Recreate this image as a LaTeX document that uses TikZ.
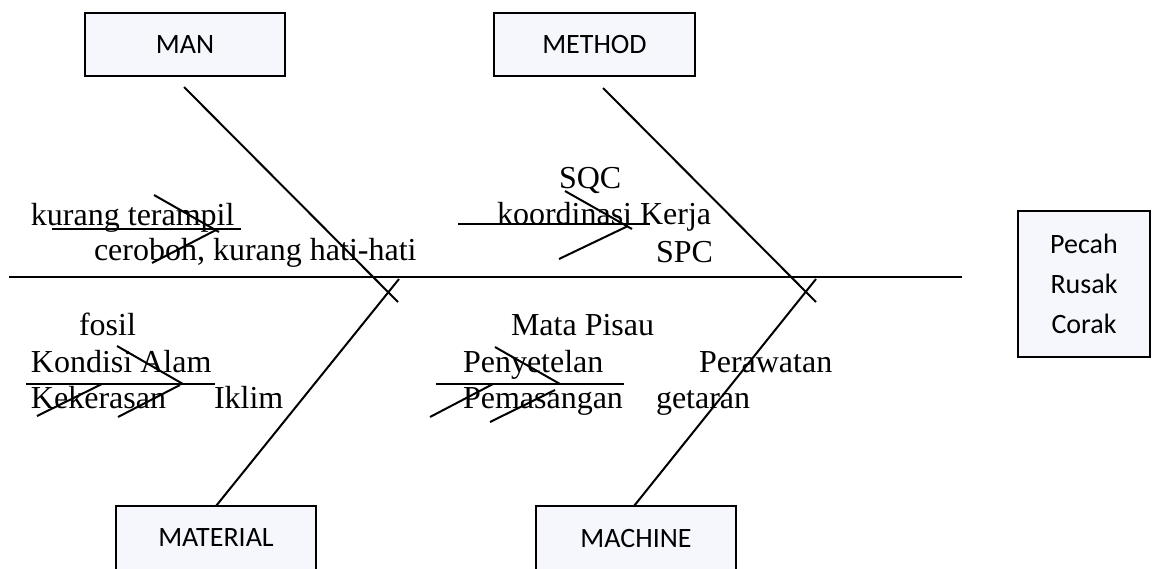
\documentclass[tikz,border=0pt]{standalone}
\usepackage{fontspec}
\setmainfont{Liberation Serif}
\newfontfamily\boxfont{Carlito}
\definecolor{boxfill}{HTML}{F5F7FD}

\begin{document}
\begin{tikzpicture}[x=0.75pt, y=-0.75pt, line width=1.5pt]
        \tikzstyle{every node}=[inner sep=0pt, font=\fontsize{24}{28}\selectfont]
        \tikzstyle{cause}=[draw, line width=1.7pt, fill=boxfill, minimum width=150.5pt, minimum height=47pt, font=\boxfont\fontsize{21}{26}\selectfont]
        \tikzstyle{txt}=[anchor=base west]
        \useasboundingbox (0,0) rectangle (1152,568);
        % category boxes
        \node [cause] (man) at (185,44.5) {MAN};
        \node [cause] (method) at (594.5,44.5) {METHOD};
        \node [cause, minimum height=48pt] (material) at (216,538) {MATERIAL};
        \node [cause, minimum height=48pt] (machine) at (636,538) {MACHINE};
        \node [cause, minimum width=99pt, minimum height=110pt, align=center, font=\boxfont\fontsize{21}{30}\selectfont] (effect) at (1084,284) {Pecah\\Rusak\\Corak};
        % spine and main bones
        \coordinate (tail) at (9,277); \coordinate (head) at (962,277);
        \coordinate (man a) at (184,87); \coordinate (man b) at (398,302);
        \coordinate (method a) at (603,88); \coordinate (method b) at (816,302);
        \coordinate (material a) at (216,506); \coordinate (material b) at (399,279);
        \coordinate (machine a) at (634,506); \coordinate (machine b) at (816,279);
        \draw (tail) -- (head);
        \draw (man a) -- (man b);
        \draw (method a) -- (method b);
        \draw (material a) -- (material b);
        \draw (machine a) -- (machine b);
        % labels
        \node [txt] (k1) at (30,225) {kurang terampil};
        \node [txt] (k2) at (93,260) {ceroboh, kurang hati-hati};
        \node [txt] (m1) at (558,188) {SQC};
        \node [txt] (m2) at (496,224) {koordinasi Kerja};
        \node [txt] (m3) at (655,262) {SPC};
        \node [txt] (t1) at (78,335) {fosil};
        \node [txt] (t2) at (30,372) {Kondisi Alam};
        \node [txt] (t3) at (30,408) {Kekerasan};
        \node [txt] (t4) at (213,408) {Iklim};
        \node [txt] (c1) at (510,335) {Mata Pisau};
        \node [txt] (c2) at (462,372) {Penyetelan};
        \node [txt] (c3) at (698,372) {Perawatan};
        \node [txt] (c4) at (462,408) {Pemasangan};
        \node [txt] (c5) at (655,408) {getaran};
        % small bones, man
        \coordinate (p1) at (52,229); \coordinate (p2) at (241,229);
        \coordinate (p3) at (154,195); \coordinate (p4) at (219,232);
        \coordinate (p5) at (152,263); \coordinate (p6) at (216,230);
        \draw (p1) -- (p2); \draw (p3) -- (p4); \draw (p5) -- (p6);
        % small bones, method
        \coordinate (q1) at (458,224); \coordinate (q2) at (650,224);
        \coordinate (q3) at (565,191); \coordinate (q4) at (632,229);
        \coordinate (q5) at (559,259); \coordinate (q6) at (628,226);
        \draw (q1) -- (q2); \draw (q3) -- (q4); \draw (q5) -- (q6);
        % small bones, material
        \coordinate (r1) at (26,384); \coordinate (r2) at (215,384);
        \coordinate (r3) at (117,346); \coordinate (r4) at (183,384);
        \coordinate (r5) at (118,417); \coordinate (r6) at (180,385);
        \coordinate (r7) at (37,416); \coordinate (r8) at (102,384);
        \draw (r1) -- (r2); \draw (r3) -- (r4); \draw (r5) -- (r6); \draw (r7) -- (r8);
        % small bones, machine
        \coordinate (s1) at (436,384); \coordinate (s2) at (624,384);
        \coordinate (s3) at (495,347); \coordinate (s4) at (560,384);
        \coordinate (s5) at (430,417); \coordinate (s6) at (493,384);
        \coordinate (s7) at (490,422); \coordinate (s8) at (555,390);
        \draw (s1) -- (s2); \draw (s3) -- (s4); \draw (s5) -- (s6); \draw (s7) -- (s8);
    \end{tikzpicture}
\end{document}
